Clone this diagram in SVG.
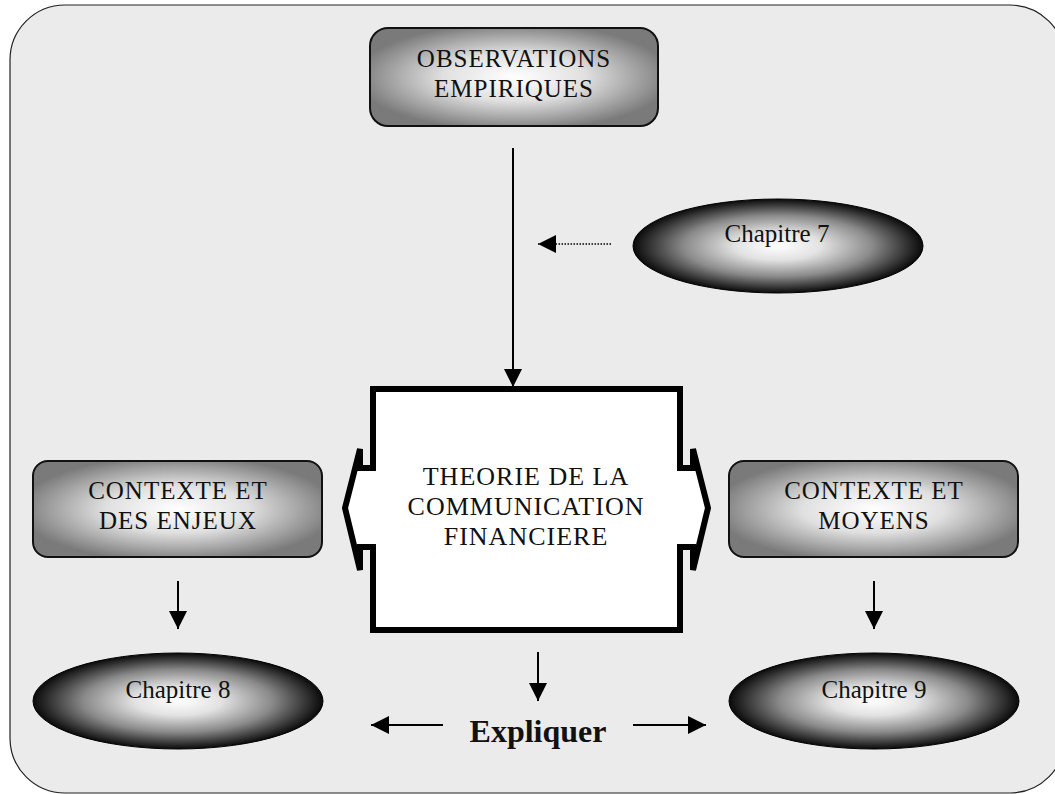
<svg xmlns="http://www.w3.org/2000/svg" width="1055" height="794" viewBox="0 0 1055 794">
<defs>
<style>
.t{font-family:"Liberation Serif","Times New Roman",serif;font-size:25px;fill:#111;text-anchor:middle}
.c{letter-spacing:1px}
.b{font-family:"Liberation Serif","Times New Roman",serif;font-size:32px;font-weight:bold;fill:#111;text-anchor:middle}
.box{fill:url(#boxGrad);stroke:#111;stroke-width:2}
.ell{fill:url(#ellGrad);stroke:#000;stroke-width:1}
.ln{stroke:#000;stroke-width:2;fill:none}
.dot{stroke:#000;stroke-width:1.5;fill:none;stroke-dasharray:1.5 1.5}
</style>
<radialGradient id="boxGrad" cx="50%" cy="50%" r="55%">
<stop offset="0" stop-color="#ffffff"/>
<stop offset="0.45" stop-color="#e0e0e0"/>
<stop offset="1" stop-color="#7a7a7a"/>
</radialGradient>
<radialGradient id="ellGrad" cx="50%" cy="50%" r="50%">
<stop offset="0" stop-color="#ffffff"/>
<stop offset="0.3" stop-color="#e2e2e2"/>
<stop offset="0.65" stop-color="#8a8a8a"/>
<stop offset="1" stop-color="#0a0a0a"/>
</radialGradient>
<marker id="ah" markerUnits="userSpaceOnUse" markerWidth="18" markerHeight="18" viewBox="0 0 16 16" refX="16" refY="8" orient="auto">
<path d="M0,0 L16,8 L0,16 Z" fill="#000"/>
</marker>
</defs>
<rect x="10" y="5" width="1055" height="788" rx="55" ry="55" fill="#ebebeb" stroke="#222" stroke-width="1.2"/>

<g id="connectors">
<line class="ln" x1="513" y1="148" x2="513" y2="387" marker-end="url(#ah)"/>
<line class="dot" x1="611" y1="244" x2="538" y2="244" marker-end="url(#ah)"/>
<line class="ln" x1="178" y1="581" x2="178" y2="629" marker-end="url(#ah)"/>
<line class="ln" x1="874" y1="581" x2="874" y2="629" marker-end="url(#ah)"/>
<line class="ln" x1="538" y1="652" x2="538" y2="701" marker-end="url(#ah)"/>
<line class="ln" x1="443" y1="725" x2="371" y2="725" marker-end="url(#ah)"/>
<line class="ln" x1="633" y1="725" x2="706" y2="725" marker-end="url(#ah)"/>
</g>

<g id="observations">
<rect class="box" x="370" y="28" width="288" height="98" rx="18" ry="18"/>
<text class="t c" x="514" y="67">OBSERVATIONS</text>
<text class="t c" x="514" y="97">EMPIRIQUES</text>
</g>

<g id="chapitre7">
<ellipse class="ell" cx="778" cy="246" rx="145" ry="47"/>
<text class="t" x="777" y="242">Chapitre 7</text>
</g>

<g id="theorie">
<path d="M373,389 L680,389 L680,468 L693,468 L693,449 L708,508 L693,570 L693,547 L680,547 L680,630 L373,630 L373,547 L360,547 L360,570 L345,508 L360,449 L360,468 L373,468 Z" fill="#fff" stroke="#000" stroke-width="6" stroke-linejoin="miter"/>
<text class="t c" x="526" y="485" style="font-size:26px">THEORIE DE LA</text>
<text class="t c" x="526" y="515" style="font-size:26px">COMMUNICATION</text>
<text class="t c" x="526" y="545" style="font-size:26px">FINANCIERE</text>
</g>

<g id="contexte-enjeux">
<rect class="box" x="33" y="461" width="289" height="96" rx="15" ry="15"/>
<text class="t c" x="178" y="499">CONTEXTE ET</text>
<text class="t c" x="178" y="529">DES ENJEUX</text>
</g>

<g id="contexte-moyens">
<rect class="box" x="729" y="461" width="289" height="96" rx="15" ry="15"/>
<text class="t c" x="874" y="499">CONTEXTE ET</text>
<text class="t c" x="874" y="529">MOYENS</text>
</g>

<g id="chapitre8">
<ellipse class="ell" cx="178" cy="701" rx="145" ry="48"/>
<text class="t" x="178" y="698">Chapitre 8</text>
</g>

<g id="chapitre9">
<ellipse class="ell" cx="874" cy="701" rx="145" ry="48"/>
<text class="t" x="874" y="698">Chapitre 9</text>
</g>

<g id="expliquer">
<text class="b" x="538" y="742">Expliquer</text>
</g>
</svg>
